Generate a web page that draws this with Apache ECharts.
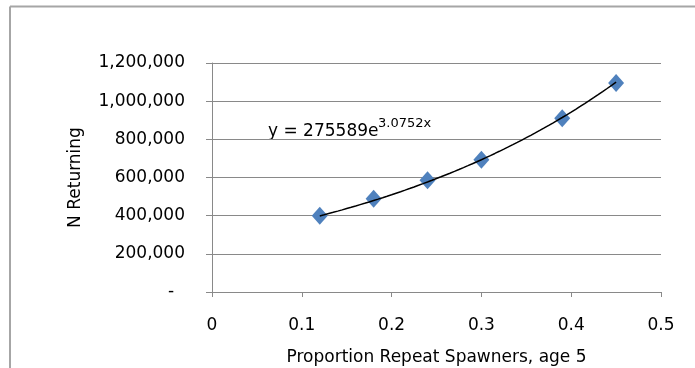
<!DOCTYPE html>
<html lang="en">
<head>
	<meta charset="UTF-8">
	<title>N Returning vs Proportion Repeat Spawners</title>
	<script src="https://cdn.jsdelivr.net/npm/echarts@6/dist/echarts.min.js"></script>
	<style>
		html, body { margin: 0; padding: 0; background: #fff; }
		#chart { width: 695px; height: 368px; }
	</style>
</head>
<body>
<div id="chart"></div>
<script>
	// observed points
	var spawnerProp = [0.12, 0.18, 0.24, 0.30, 0.39, 0.45];
	var nReturning = [400000, 488000, 586000, 693000, 910000, 1095000];

	// exponential trendline y = a * e^(b x), as printed on the chart
	var trendA = 275589;
	var trendB = 3.0752;
	var trendLabel = 'y = 275589e';
	var trendExp = '3.0752x';

	var xTicks = [0, 0.1, 0.2, 0.3, 0.4, 0.5];
	var yTicks = [0, 200000, 400000, 600000, 800000, 1000000, 1200000];

	var font = 'DejaVu Sans';

	var points = [];
	for (var i = 0; i < spawnerProp.length; i++) {
		points.push([spawnerProp[i], nReturning[i]]);
	}

	var trend = [];
	var x0 = spawnerProp[0], x1 = spawnerProp[spawnerProp.length - 1];
	for (var k = 0; k <= 66; k++) {
		var x = x0 + (x1 - x0) * k / 66;
		trend.push([x, trendA * Math.exp(trendB * x)]);
	}

	var chart = echarts.init(document.getElementById('chart'));
	chart.setOption({
		animation: false,
		backgroundColor: '#fff',
		grid: {
			left: 212,
			right: 34,
			top: 63,
			bottom: 76,
			containLabel: false,
			outerBoundsMode: 'none'
		},
		xAxis: {
			type: 'value',
			min: xTicks[0],
			max: xTicks[xTicks.length - 1],
			interval: 0.1,
			name: 'Proportion Repeat Spawners, age 5',
			nameLocation: 'middle',
			nameGap: 57,
			nameTextStyle: { fontFamily: font, fontSize: 17, color: '#000' },
			axisLine: { show: true, lineStyle: { color: '#898989', width: 1 } },
			axisTick: { show: true, length: 5, lineStyle: { color: '#898989' } },
			axisLabel: {
				margin: 25,
				fontFamily: font,
				fontSize: 17,
				color: '#000',
				formatter: function (v) { return String(Math.round(v * 10) / 10); }
			},
			splitLine: { show: false }
		},
		yAxis: {
			type: 'value',
			min: yTicks[0],
			max: yTicks[yTicks.length - 1],
			interval: 200000,
			name: 'N Returning',
			nameLocation: 'middle',
			nameGap: 128,
			nameTextStyle: { fontFamily: font, fontSize: 17, color: '#000' },
			axisLine: { show: true, lineStyle: { color: '#898989', width: 1 } },
			axisTick: { show: true, length: 6, lineStyle: { color: '#898989' } },
			axisLabel: {
				margin: 27,
				fontFamily: font,
				fontSize: 17,
				color: '#000',
				formatter: function (v) {
					return v === 0 ? '-  ' : v.toLocaleString('en-US');
				}
			},
			splitLine: { show: true, lineStyle: { color: '#898989', width: 1 } }
		},
		series: [
			{
				name: 'Trend',
				type: 'line',
				data: trend,
				showSymbol: false,
				symbol: 'none',
				lineStyle: { color: '#000', width: 1.5 },
				z: 3
			},
			{
				name: 'N Returning',
				type: 'scatter',
				data: points,
				symbol: 'diamond',
				symbolSize: [16, 18],
				itemStyle: { color: '#4F81BD', opacity: 1 },
				z: 2
			}
		],
		graphic: [
			{
				type: 'line',
				shape: { x1: 10, y1: 6.5, x2: 695, y2: 6.5 },
				style: { stroke: '#a6a6a6', lineWidth: 2 }
			},
			{
				type: 'line',
				shape: { x1: 10, y1: 6.5, x2: 10, y2: 368 },
				style: { stroke: '#a6a6a6', lineWidth: 2 }
			},
			{
				type: 'text',
				left: 268,
				top: 123,
				style: { text: trendLabel, font: '17px "DejaVu Sans"', fill: '#000' }
			},
			{
				type: 'text',
				left: 378,
				top: 117,
				style: { text: trendExp, font: '13px "DejaVu Sans"', fill: '#000' }
			}
		]
	});
</script>
</body>
</html>
